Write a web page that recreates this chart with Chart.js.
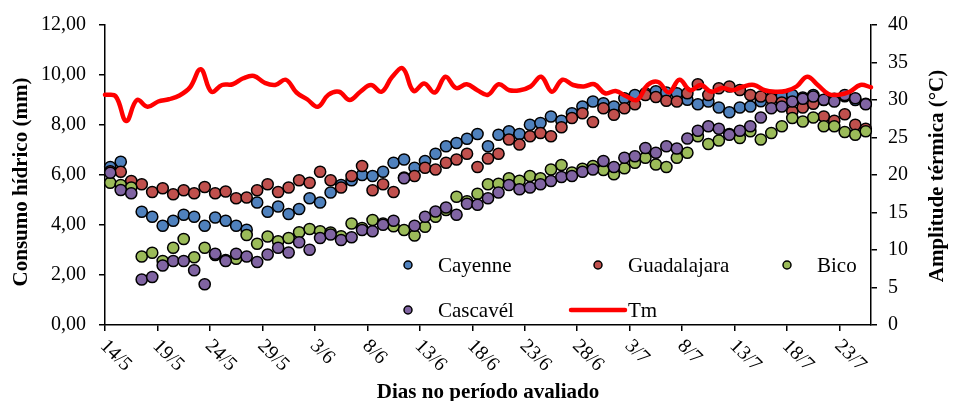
<!DOCTYPE html>
<html>
<head>
<meta charset="utf-8">
<script src="https://cdn.jsdelivr.net/npm/chart.js@4.4.1/dist/chart.umd.min.js"></script>
<style>
  html, body { margin: 0; padding: 0; background: #ffffff; }
  #wrap { width: 953px; height: 401px; position: relative; }
</style>
</head>
<body>
<div id="wrap"><canvas id="chart" width="953" height="401"></canvas></div>
<script>
// Daily dates of the evaluated period
const days = [
  '14/5','15/5','16/5','17/5','18/5','19/5','20/5','21/5','22/5','23/5','24/5','25/5','26/5','27/5','28/5','29/5','30/5','31/5',
  '1/6','2/6','3/6','4/6','5/6','6/6','7/6','8/6','9/6','10/6','11/6','12/6','13/6','14/6','15/6','16/6','17/6','18/6','19/6','20/6',
  '21/6','22/6','23/6','24/6','25/6','26/6','27/6','28/6','29/6','30/6',
  '1/7','2/7','3/7','4/7','5/7','6/7','7/7','8/7','9/7','10/7','11/7','12/7','13/7','14/7','15/7','16/7','17/7','18/7','19/7','20/7',
  '21/7','22/7','23/7','24/7','25/7'
];

// Dates shown on the horizontal axis
const tickLabels = ['14/5','19/5','24/5','29/5','3/6','8/6','13/6','18/6','23/6','28/6','3/7','8/7','13/7','18/7','23/7'];

// Water consumption (mm) per cultivar
const cayenne = [
  6.32, 6.53, 5.60, 4.53, 4.33, 3.97, 4.17, 4.41, 4.33, 3.97,
  4.30, 4.17, 3.97, 3.81, 4.90, 4.53, 4.74, 4.44, 4.64, 5.07,
  4.90, 5.30, 5.60, 5.79, 6.00, 5.96, 6.13, 6.49, 6.62, 6.29,
  6.56, 6.85, 7.15, 7.28, 7.45, 7.64, 7.15, 7.61, 7.75, 7.64,
  8.01, 8.08, 8.34, 8.17, 8.47, 8.74, 8.94, 8.87, 8.74, 9.07,
  9.20, 9.27, 9.35, 9.30, 9.27, 9.01, 8.83, 8.94, 8.70, 8.51,
  8.70, 8.74, 8.95, 9.10, 9.15, 9.20, 9.10, 9.20, 9.00, 9.05,
  9.15, 9.00, 8.85
];
const guadalajara = [
  6.15, 6.13, 5.76, 5.63, 5.32, 5.47, 5.23, 5.39, 5.27, 5.52,
  5.27, 5.34, 5.07, 5.10, 5.39, 5.63, 5.32, 5.50, 5.79, 5.69,
  6.13, 5.79, 5.50, 5.96, 6.36, 5.39, 5.63, 5.32, 5.90, 5.96,
  6.29, 6.22, 6.49, 6.62, 6.85, 6.32, 6.66, 6.85, 7.42, 7.22,
  7.55, 7.68, 7.55, 7.91, 8.28, 8.47, 8.12, 8.67, 8.41, 8.67,
  8.83, 9.20, 9.12, 8.97, 8.94, 9.27, 9.63, 9.20, 9.47, 9.54,
  9.40, 9.20, 9.14, 9.05, 8.90, 8.54, 8.70, 8.85, 8.34, 8.17,
  8.43, 8.01, 7.85
];
const bico = [
  5.69, 5.60, 5.50, 2.74, 2.89, 2.56, 3.09, 3.44, 2.71, 3.09,
  2.80, 2.60, 2.65, 3.60, 3.25, 3.54, 3.35, 3.48, 3.71, 3.84,
  3.75, 3.70, 3.55, 4.06, 3.88, 4.20, 4.06, 3.95, 3.80, 3.58,
  3.93, 4.33, 4.60, 5.13, 4.95, 5.25, 5.63, 5.65, 5.87, 5.77,
  5.96, 5.87, 6.22, 6.40, 6.10, 6.25, 6.36, 6.20, 6.03, 6.27,
  6.49, 6.69, 6.42, 6.32, 6.69, 6.89, 7.55, 7.24, 7.38, 7.64,
  7.48, 7.75, 7.42, 7.68, 7.95, 8.28, 8.14, 8.30, 7.95, 7.95,
  7.72, 7.61, 7.75
];
const cascavel = [
  6.09, 5.40, 5.27, 1.82, 1.92, 2.38, 2.56, 2.56, 2.19, 1.63,
  2.85, 2.56, 2.85, 2.74, 2.52, 2.82, 3.09, 2.90, 3.31, 3.01,
  3.48, 3.62, 3.40, 3.51, 3.80, 3.75, 4.01, 4.17, 5.87, 3.97,
  4.33, 4.54, 4.70, 4.41, 4.85, 4.81, 5.07, 5.30, 5.60, 5.43,
  5.50, 5.63, 5.76, 5.92, 5.96, 6.13, 6.22, 6.56, 6.32, 6.69,
  6.75, 7.08, 6.89, 7.15, 7.06, 7.46, 7.77, 7.95, 7.85, 7.61,
  7.77, 7.95, 8.30, 8.67, 8.74, 8.94, 9.05, 9.14, 9.01, 8.94,
  9.20, 9.07, 8.83
];

// Daily thermal amplitude (°C)
const tm = [
  30.7, 30.5, 27.2, 30.0, 29.1, 29.8, 30.1, 30.6, 31.7, 34.1,
  31.1, 32.0, 32.1, 32.9, 33.2, 32.3, 32.0, 32.7, 31.0, 30.1,
  29.1, 30.7, 31.1, 30.0, 31.1, 32.0, 31.1, 33.1, 34.2, 31.2,
  32.2, 31.0, 33.1, 31.6, 32.1, 31.3, 30.7, 32.1, 31.3, 31.3,
  31.8, 33.1, 31.1, 32.7, 32.0, 31.8, 32.1, 30.9, 31.2, 30.5,
  30.0, 32.0, 32.4, 31.0, 32.7, 31.3, 32.0, 31.1, 31.6, 31.3,
  31.8, 32.0, 31.3, 31.1, 31.2, 31.8, 33.1, 32.0, 30.8, 30.7,
  31.1, 32.0, 31.7
];

const FONT = '"Liberation Serif", "Times New Roman", serif';
const INK = '#000000';

function markerSeries(label, data, color, order) {
  return {
    type: 'line', label, data, order,
    xAxisID: 'x', yAxisID: 'y',
    showLine: false,
    backgroundColor: color,
    borderColor: INK,
    pointBackgroundColor: color,
    pointBorderColor: INK,
    pointBorderWidth: 1.5,
    pointRadius: 5.6,
    pointHoverRadius: 5.6,
    clip: false
  };
}

// Axis titles, rotated date labels and the legend block
const decorations = {
  id: 'decorations',
  afterDraw(chart) {
    const ctx = chart.ctx;
    const xs = chart.scales.x;
    const area = chart.chartArea;

    ctx.save();
    ctx.fillStyle = INK;

    // date labels, slanted downwards
    ctx.font = '20px ' + FONT;
    ctx.textAlign = 'left';
    ctx.textBaseline = 'middle';
    tickLabels.forEach(t => {
      const cx = xs.getPixelForValue(days.indexOf(t));
      ctx.save();
      ctx.translate(cx - 7, area.bottom + 18);
      ctx.rotate(Math.PI / 4);
      ctx.fillText(t, 0, 0);
      ctx.restore();
    });

    // axis titles
    ctx.font = 'bold 21px ' + FONT;
    ctx.textAlign = 'center';
    ctx.textBaseline = 'alphabetic';
    ctx.fillText('Dias no período avaliado', (area.left + area.right) / 2, 398);

    ctx.textBaseline = 'middle';
    ctx.save();
    ctx.translate(22, 182);
    ctx.rotate(-Math.PI / 2);
    ctx.fillText('Consumo hídrico (mm)', 0, 0);
    ctx.restore();

    ctx.save();
    ctx.translate(938, 176);
    ctx.rotate(-Math.PI / 2);
    ctx.fillText('Amplitude térmica (°C)', 0, 0);
    ctx.restore();

    // legend
    const ds = chart.data.datasets;
    const entries = [
      { i: 0, x: 408, y: 265 },
      { i: 1, x: 598, y: 265 },
      { i: 2, x: 787, y: 265 },
      { i: 3, x: 408, y: 310 },
      { i: 4, x: 598, y: 310 }
    ];
    ctx.font = '21px ' + FONT;
    ctx.textAlign = 'left';
    ctx.textBaseline = 'alphabetic';
    entries.forEach(e => {
      const d = ds[e.i];
      if (d.showLine === false) {
        ctx.beginPath();
        ctx.arc(e.x, e.y, 4, 0, Math.PI * 2);
        ctx.fillStyle = d.pointBackgroundColor;
        ctx.fill();
        ctx.lineWidth = 1.5;
        ctx.strokeStyle = INK;
        ctx.stroke();
      } else {
        ctx.beginPath();
        ctx.moveTo(e.x - 27, e.y);
        ctx.lineTo(e.x + 27, e.y);
        ctx.lineWidth = d.borderWidth;
        ctx.lineCap = 'round';
        ctx.strokeStyle = d.borderColor;
        ctx.stroke();
      }
      ctx.fillStyle = INK;
      ctx.fillText(d.label, e.x + 30, e.y + 6.5);
    });

    ctx.restore();
  }
};

new Chart(document.getElementById('chart'), {
  data: {
    labels: days,
    datasets: [
      markerSeries('Cayenne', cayenne, '#4F81BD', 4),
      markerSeries('Guadalajara', guadalajara, '#C0504D', 3),
      markerSeries('Bico', bico, '#9BBB59', 2),
      markerSeries('Cascavél', cascavel, '#8064A2', 1),
      {
        type: 'line', label: 'Tm', data: tm, order: 0,
        xAxisID: 'x2', yAxisID: 'y2',
        borderColor: '#FF0000', backgroundColor: '#FF0000',
        borderWidth: 4.5, pointRadius: 0, pointHoverRadius: 0,
        tension: 0.4, fill: false, clip: false,
        borderCapStyle: 'round', borderJoinStyle: 'round'
      }
    ]
  },
  options: {
    responsive: false,
    animation: false,
    devicePixelRatio: 1,
    events: [],
    layout: { padding: { top: 23, bottom: 0, left: 0, right: 0 } },
    plugins: { legend: { display: false }, tooltip: { enabled: false }, title: { display: false } },
    scales: {
      x: {
        type: 'category', labels: days, position: 'bottom', offset: true,
        grid: {
          offset: true, drawOnChartArea: false, drawTicks: true, tickLength: 6, lineWidth: 1.5,
          color: c => (c.index % 5 === 0 ? INK : 'rgba(0,0,0,0)')
        },
        border: { display: true, color: INK, width: 1.5 },
        ticks: { display: false, autoSkip: false },
        afterFit: s => { s.height = 76; }
      },
      x2: { type: 'category', labels: days, offset: false, display: false },
      y: {
        position: 'left', min: 0, max: 12,
        ticks: {
          stepSize: 2, color: INK, padding: 13,
          font: { family: FONT, size: 20 },
          callback: v => Number(v).toFixed(2).replace('.', ',')
        },
        grid: { drawOnChartArea: false, tickLength: 6, color: INK, lineWidth: 1.5 },
        border: { display: true, color: INK, width: 1.5 },
        afterFit: s => { s.width = 105; }
      },
      y2: {
        position: 'right', min: 0, max: 40,
        ticks: { stepSize: 5, color: INK, padding: 11, font: { family: FONT, size: 20 } },
        grid: { drawOnChartArea: false, tickLength: 6, color: INK, lineWidth: 1.5 },
        border: { display: true, color: INK, width: 1.5 },
        afterFit: s => { s.width = 82; }
      }
    }
  },
  plugins: [decorations]
});
</script>
</body>
</html>
